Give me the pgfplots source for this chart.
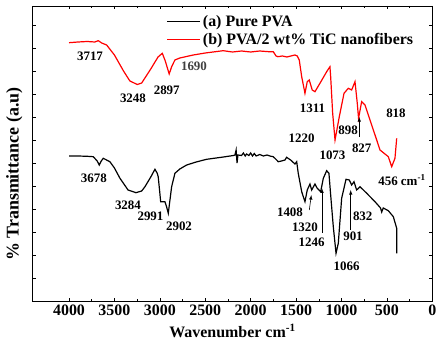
\documentclass[border=0pt]{standalone}
\usepackage{pgfplots}
\pgfplotsset{compat=1.18}
\usepackage{fontspec}
\setmainfont{Liberation Serif}
\begin{document}
\begin{tikzpicture}
\useasboundingbox (-32.7bp,-45bp) rectangle (414.3bp,301bp);
\begin{axis}[
  at={(0,0)}, anchor=south west,
  scale only axis, width=399.6bp, height=295bp,
  xmin=0, xmax=4400, ymin=0, ymax=295,
  x dir=reverse,
  xtick={0,500,...,4000},
  minor x tick num=1,
  ytick={0,23,...,295},
  yticklabels={},
  tick align=inside,
  major tick length=3bp, minor tick length=2bp,
  every tick/.style={black, line width=0.5bp},
  axis line style={line width=0.8bp},
  /pgf/number format/assume math mode=true,
  /pgf/number format/1000 sep={},
  xticklabel style={font=\fontsize{16}{18}\selectfont\bfseries, yshift=0bp},
  xlabel={Wavenumber cm\textsuperscript{-1}},
  ylabel={\% Transmittance (a.u)},
  xlabel style={font=\fontsize{16}{18}\selectfont\bfseries, yshift=-2bp},
  ylabel style={font=\fontsize{18}{20}\selectfont\bfseries, at={(axis description cs:-0.046,0.43)}, anchor=center},
  legend style={at={(rel axis cs:0.335,0.975)}, anchor=north west, draw=none, fill=none,
    font=\fontsize{16}{18}\selectfont\bfseries, inner sep=0pt, row sep=1bp},
  legend cell align=left,
  legend image code/.code={\draw[#1] (0bp,0bp) -- (33bp,0bp);},
]
\addplot[black, line width=1.2bp] coordinates {
(4000,145) (3900,145) (3800,144.7) (3733,144.3) (3690,140) (3667,136) (3645,140) (3623,142.7)
(3550,139.3) (3500,133) (3439,122.7) (3350,111) (3263,108.3) (3200,110) (3164,114.3) (3100,124)
(3054,131.7) (3030,128) (3018,124.3) (3000,108) (2991,99.3) (2960,99.3) (2944,99.3) (2925,94)
(2907,87.7) (2890,100) (2870,114.3) (2834,127.7) (2780,132) (2705,136) (2600,139) (2485,141.7)
(2300,144) (2190,145.5) (2173,146) (2160,151) (2150,138) (2140,146) (2100,145.5) (2080,148)
(2060,145) (2044,147) (2020,145.5) (2000,148) (1980,145) (1960,147.5) (1940,145) (1900,146.5)
(1860,145) (1820,146) (1780,144.8) (1751,144.3) (1714,141) (1696,139.3) (1660,140) (1622,141)
(1604,143.7) (1560,141) (1512,137) (1493,139.3) (1476,127.7) (1438,109.3) (1402,99.3) (1377,111)
(1347,117) (1328,111) (1292,117) (1267,112.7) (1229,109.3) (1200,122.7) (1163,130.3) (1138,127.7)
(1119,106) (1090,74.3) (1060,47.7) (1035,57.7) (998,102.7) (950,121.7) (914,121) (888,116)
(862,119.3) (833,111) (796,114.3) (722,107.7) (631,99.3) (570,93) (557,89) (540,93) (484,90.3)
(429,84.3) (392,72.7) (392,47.7)
};
\addlegendentry{(a) Pure PVA}
\addplot[red, line width=1.2bp] coordinates {
(4000,258.3) (3900,259) (3800,259.5) (3717,259) (3678,260.3) (3640,258) (3586,256) (3500,246)
(3400,230) (3330,220) (3248,216.5) (3200,218) (3100,232) (3020,244) (2973,247.7) (2940,240)
(2897,227) (2870,234.3) (2834,241) (2780,243) (2632,246) (2500,248) (2302,250.3) (2200,249)
(2100,250) (2000,249) (1900,250) (1800,249.3) (1751,249.3) (1720,245) (1700,244.3) (1650,245)
(1600,244) (1512,246) (1487,245) (1465,241) (1438,224.3) (1402,207.7) (1377,219.3) (1355,221)
(1322,211) (1292,209.3) (1237,217.7) (1163,229.3) (1127,234.3) (1119,224.3) (1097,187.7)
(1071,161) (1024,184.3) (972,207.7) (925,212.7) (888,211) (851,219.3) (826,197.7) (812,182.7)
(778,199.3) (741,196) (686,181) (612,161) (576,151) (484,144.3) (447,134.3) (411,142.7) (392,162.7)
};
\addlegendentry{(b) PVA/2 wt\% TiC nanofibers}

\tikzset{lab/.style={font=\fontsize{13}{15}\selectfont\bfseries, inner sep=0pt}}
% red labels
\node[lab] at (axis cs:3769,244.3) {3717};
\node[lab] at (axis cs:3296,203) {3248};
\node[lab] at (axis cs:2924,211) {2897};
\node[lab, text=black!75] at (axis cs:2624,234.3) {1690};
\node[lab] at (axis cs:1319,193) {1311};
\node[lab] at (axis cs:1438,163) {1220};
\node[lab] at (axis cs:1099,146) {1073};
\node[lab] at (axis cs:928,171) {898};
\node[lab] at (axis cs:777,153) {827};
\node[lab] at (axis cs:400,188) {818};
\node[lab] at (axis cs:334,121) {456 cm\textsuperscript{-1}};
% black labels
\node[lab] at (axis cs:3726,123) {3678};
\node[lab] at (axis cs:3351,96) {3284};
\node[lab] at (axis cs:3103,85) {2991};
\node[lab] at (axis cs:2789,75) {2902};
\node[lab] at (axis cs:1567,88.3) {1408};
\node[lab] at (axis cs:1402,74) {1320};
\node[lab] at (axis cs:1328,58.3) {1246};
\node[lab] at (axis cs:943,35) {1066};
\node[lab] at (axis cs:873,64.3) {901};
\node[lab] at (axis cs:766,85) {832};
% arrows
\draw[-latex, line width=0.6bp] (axis cs:804,164.3) -- (axis cs:804,184);
\draw[-latex, line width=0.6bp] (axis cs:1354,91) -- (axis cs:1332,106);
\draw[-latex, line width=0.6bp] (axis cs:1214,68.3) -- (axis cs:1214,112.7);
\draw[-latex, line width=0.6bp] (axis cs:898,71) -- (axis cs:898,111);
\end{axis}
\end{tikzpicture}
\end{document}
